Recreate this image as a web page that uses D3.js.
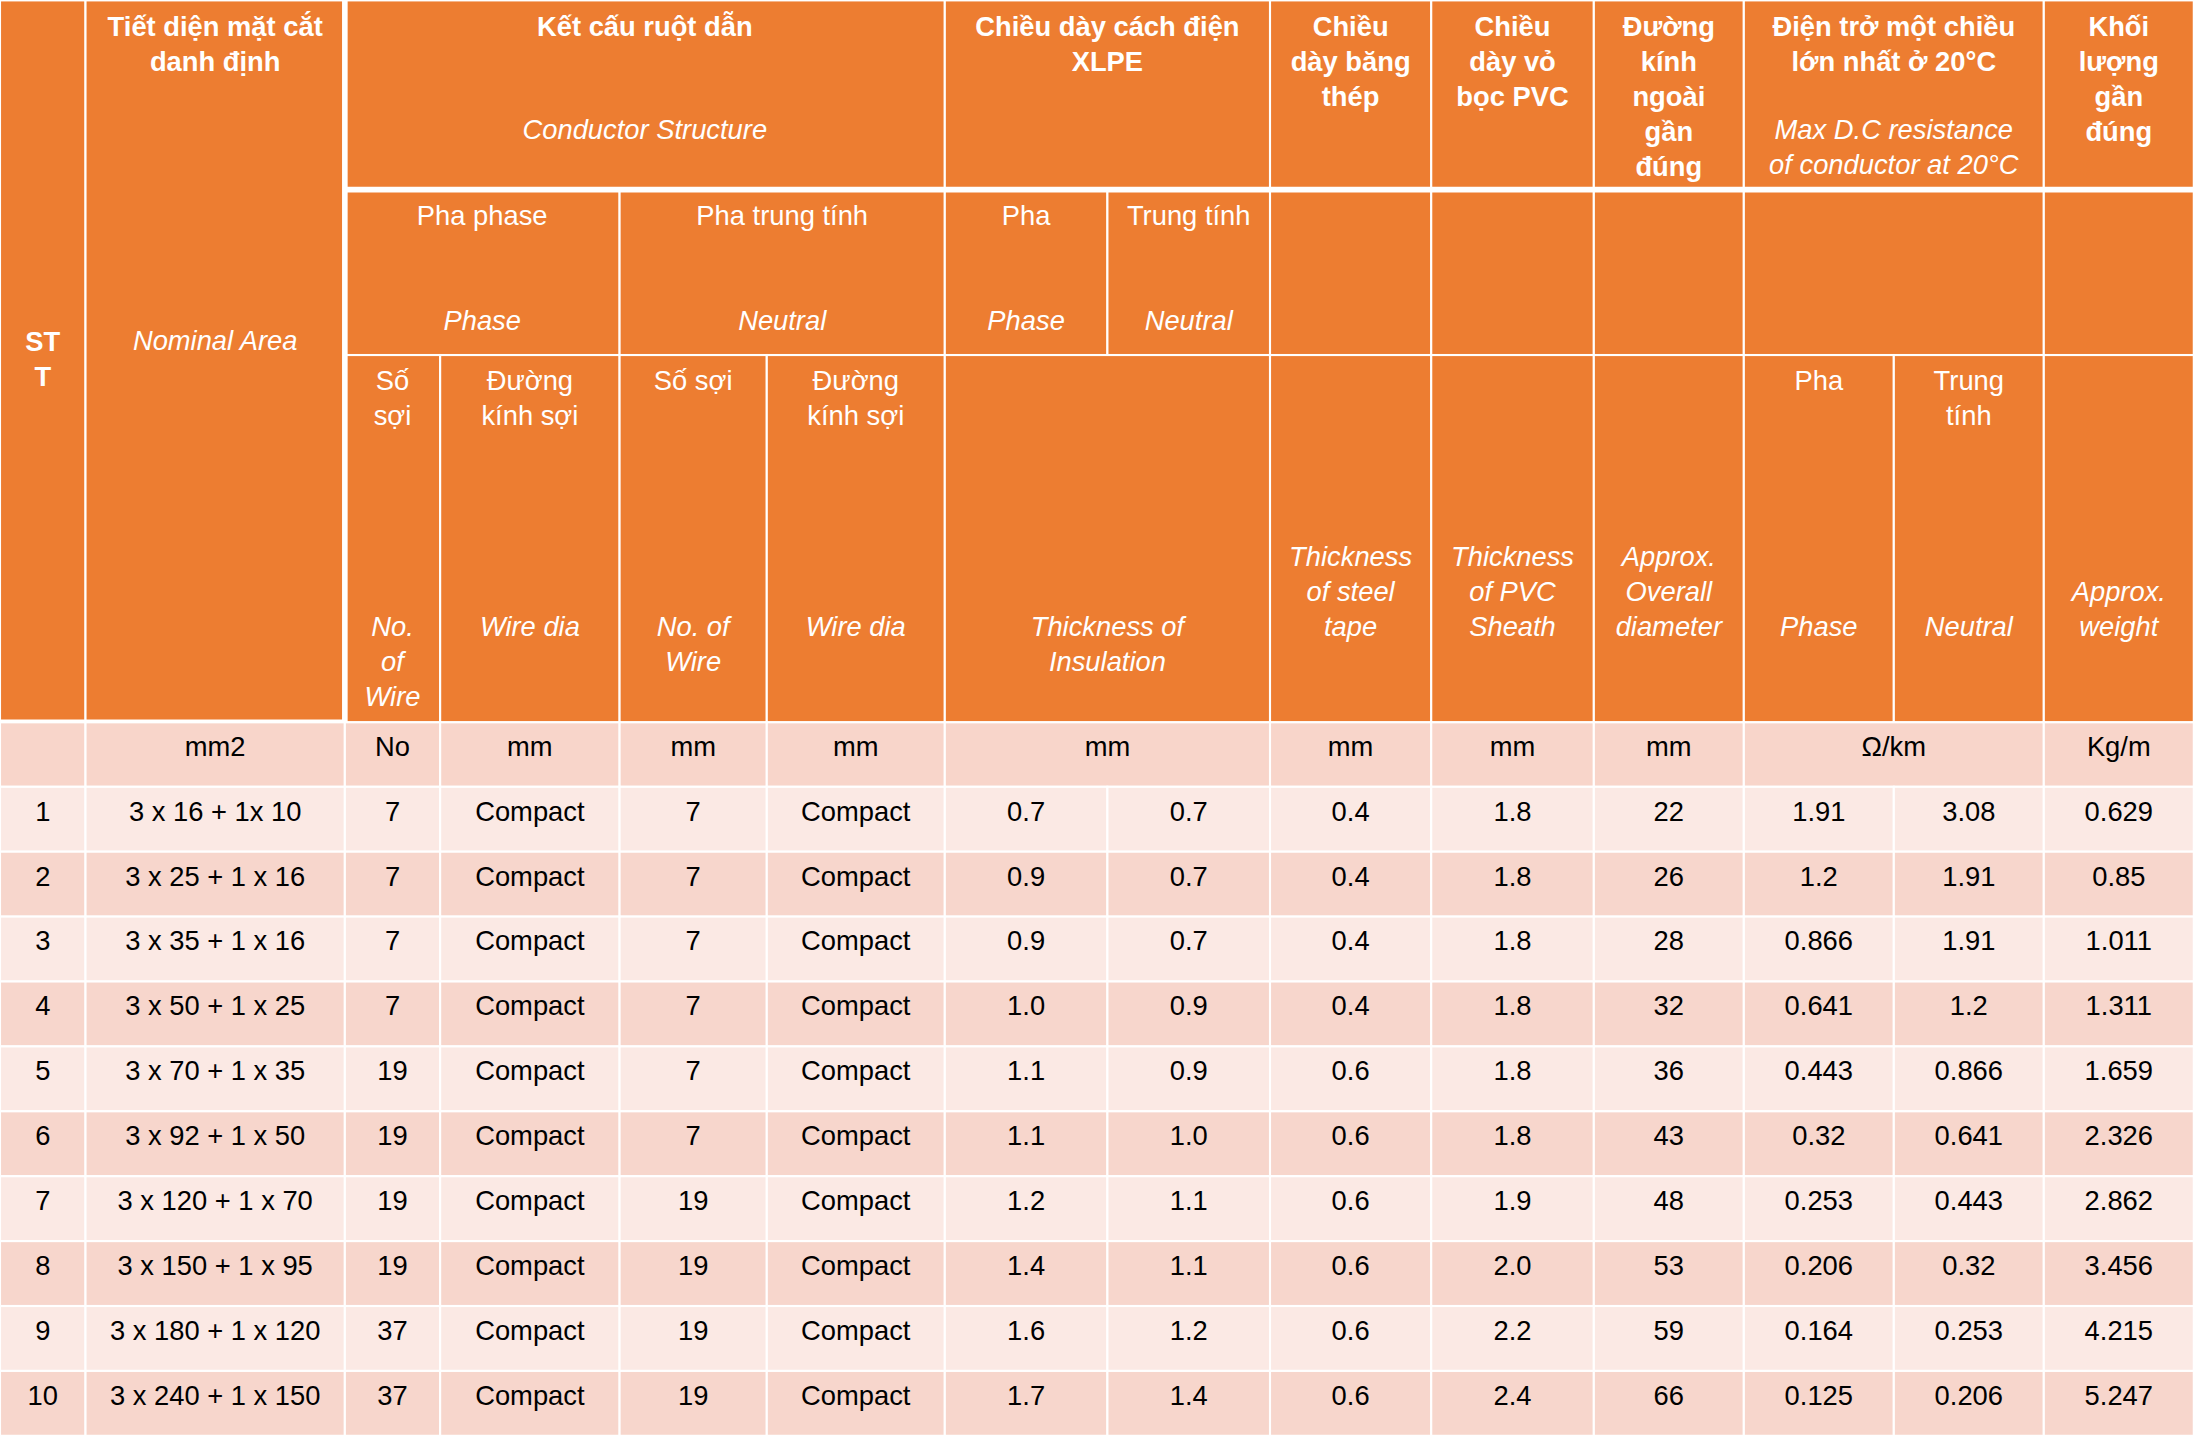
<!DOCTYPE html><html><head><meta charset="utf-8">
<script src="https://cdn.jsdelivr.net/npm/d3@7"></script>
<style>body{margin:0;background:#fff}svg{display:block}</style></head><body>
<script>
const stt=[1,2,3,4,5,6,7,8,9,10];
const area=["3 x 16 + 1x 10","3 x 25 + 1 x 16","3 x 35 + 1 x 16","3 x 50 + 1 x 25","3 x 70 + 1 x 35","3 x 92 + 1 x 50","3 x 120 + 1 x 70","3 x 150 + 1 x 95","3 x 180 + 1 x 120","3 x 240 + 1 x 150"];
const phaseWires=[7,7,7,7,19,19,19,19,37,37];
const neutralWires=[7,7,7,7,7,7,19,19,19,19];
const insPhase=["0.7","0.9","0.9","1.0","1.1","1.1","1.2","1.4","1.6","1.7"];
const insNeutral=["0.7","0.7","0.7","0.9","0.9","1.0","1.1","1.1","1.2","1.4"];
const steel=["0.4","0.4","0.4","0.4","0.6","0.6","0.6","0.6","0.6","0.6"];
const pvc=["1.8","1.8","1.8","1.8","1.8","1.8","1.9","2.0","2.2","2.4"];
const diam=[22,26,28,32,36,43,48,53,59,66];
const resPhase=["1.91","1.2","0.866","0.641","0.443","0.32","0.253","0.206","0.164","0.125"];
const resNeutral=["3.08","1.91","1.91","1.2","0.866","0.641","0.443","0.32","0.253","0.206"];
const weight=["0.629","0.85","1.011","1.311","1.659","2.326","2.862","3.456","4.215","5.247"];
const units=[["",0,1],["mm2",1,2],["No",2,3],["mm",3,4],["mm",4,5],["mm",5,6],["mm",6,8],["mm",8,9],["mm",9,10],["mm",10,11],["Ω/km",11,13],["Kg/m",13,14]];

const cols=[0,61,246,314,442,547,674,790,906,1021,1137,1244,1351,1458,1565];
const OR="#ED7D31";
const svg=d3.select("body").append("svg").attr("width",2198).attr("height",1439).attr("viewBox","0 0 1568 1026")
 .style("font-family","'Liberation Sans',Arial,sans-serif");
const y=d3.scaleBand().domain(d3.range(10)).range([561,1024]);
// header cells: [c0,c1,y0,y1,lines] lines: [text,y,style]
const B="b",I="i",R="r";
const hdr=[
 [0,1,0,515,[["ST",245,B],["T",270,B]]],
 [1,2,0,515,[["Tiết diện mặt cắt",20,B],["danh định",45,B],["Nominal Area",244,I]]],
 [2,6,0,135,[["Kết cấu ruột dẫn",20,B],["Conductor Structure",94,I]]],
 [6,8,0,135,[["Chiều dày cách điện",20,B],["XLPE",45,B]]],
 [8,9,0,135,[["Chiều",20,B],["dày băng",45,B],["thép",70,B]]],
 [9,10,0,135,[["Chiều",20,B],["dày vỏ",45,B],["bọc PVC",70,B]]],
 [10,11,0,135,[["Đường",20,B],["kính",45,B],["ngoài",70,B],["gần",95,B],["đúng",120,B]]],
 [11,13,0,135,[["Điện trở một chiều",20,B],["lớn nhất ở 20°C",45,B],["Max D.C resistance",94,I],["of conductor at 20°C",119,I]]],
 [13,14,0,135,[["Khối",20,B],["lượng",45,B],["gần",70,B],["đúng",95,B]]],
 [2,4,135,253,[["Pha phase",155,R],["Phase",230,I]]],
 [4,6,135,253,[["Pha trung tính",155,R],["Neutral",230,I]]],
 [6,7,135,253,[["Pha",155,R],["Phase",230,I]]],
 [7,8,135,253,[["Trung tính",155,R],["Neutral",230,I]]],
 [8,9,135,253,[]],[9,10,135,253,[]],[10,11,135,253,[]],[11,13,135,253,[]],[13,14,135,253,[]],
 [2,3,253,515,[["Số",273,R],["sợi",298,R],["No.",448,I],["of",473,I],["Wire",498,I]]],
 [3,4,253,515,[["Đường",273,R],["kính sợi",298,R],["Wire dia",448,I]]],
 [4,5,253,515,[["Số sợi",273,R],["No. of",448,I],["Wire",473,I]]],
 [5,6,253,515,[["Đường",273,R],["kính sợi",298,R],["Wire dia",448,I]]],
 [6,8,253,515,[["Thickness of",448,I],["Insulation",473,I]]],
 [8,9,253,515,[["Thickness",398,I],["of steel",423,I],["tape",448,I]]],
 [9,10,253,515,[["Thickness",398,I],["of PVC",423,I],["Sheath",448,I]]],
 [10,11,253,515,[["Approx.",398,I],["Overall",423,I],["diameter",448,I]]],
 [11,12,253,515,[["Pha",273,R],["Phase",448,I]]],
 [12,13,253,515,[["Trung",273,R],["tính",298,R],["Neutral",448,I]]],
 [13,14,253,515,[["Approx.",423,I],["weight",448,I]]]
];
const g=svg.append("g");
hdr.forEach(([a,b,y0,y1,lines])=>{
 g.append("rect").attr("x",cols[a]).attr("y",y0).attr("width",cols[b]-cols[a]).attr("height",y1-y0).attr("fill",OR).attr("stroke","#fff").attr("stroke-width",1.5);
 lines.forEach(([t,ty,s])=>g.append("text").attr("x",(cols[a]+cols[b])/2).attr("y",ty).attr("text-anchor","middle").attr("dominant-baseline","middle")
  .attr("font-size",19.5).attr("fill","#fff").attr("font-weight",s==B?"bold":"normal").attr("font-style",s==I?"italic":"normal").text(t));
});
// thick lines
g.append("line").attr("x1",246).attr("x2",1568).attr("y1",135).attr("y2",135).attr("stroke","#fff").attr("stroke-width",4);
g.append("line").attr("x1",246).attr("x2",246).attr("y1",0).attr("y2",515).attr("stroke","#fff").attr("stroke-width",4);
g.append("line").attr("x1",0).attr("x2",246).attr("y1",515).attr("y2",515).attr("stroke","#fff").attr("stroke-width",4);
// units row
units.forEach(([t,a,b])=>{
 g.append("rect").attr("x",cols[a]).attr("y",515).attr("width",cols[b]-cols[a]).attr("height",46).attr("fill","#F8D5CA").attr("stroke","#fff").attr("stroke-width",1.5);
 g.append("text").attr("x",(cols[a]+cols[b])/2).attr("y",534).attr("text-anchor","middle").attr("dominant-baseline","middle").attr("font-size",19.5).attr("fill","#000").text(t);
});
const table=stt.map((s,i)=>[s,area[i],phaseWires[i],"Compact",neutralWires[i],"Compact",insPhase[i],insNeutral[i],steel[i],pvc[i],diam[i],resPhase[i],resNeutral[i],weight[i]]);
table.forEach((row,i)=>{
 row.forEach((v,j)=>{
  g.append("rect").attr("x",cols[j]).attr("y",y(i)).attr("width",cols[j+1]-cols[j]).attr("height",y.bandwidth()).attr("fill",i%2==0?"#FBE9E4":"#F7D6CC").attr("stroke","#fff").attr("stroke-width",1.5);
  g.append("text").attr("x",(cols[j]+cols[j+1])/2).attr("y",y(i)+19).attr("text-anchor","middle").attr("dominant-baseline","middle").attr("font-size",19.5).attr("fill","#000").text(v);
 });
});
</script></body></html>
